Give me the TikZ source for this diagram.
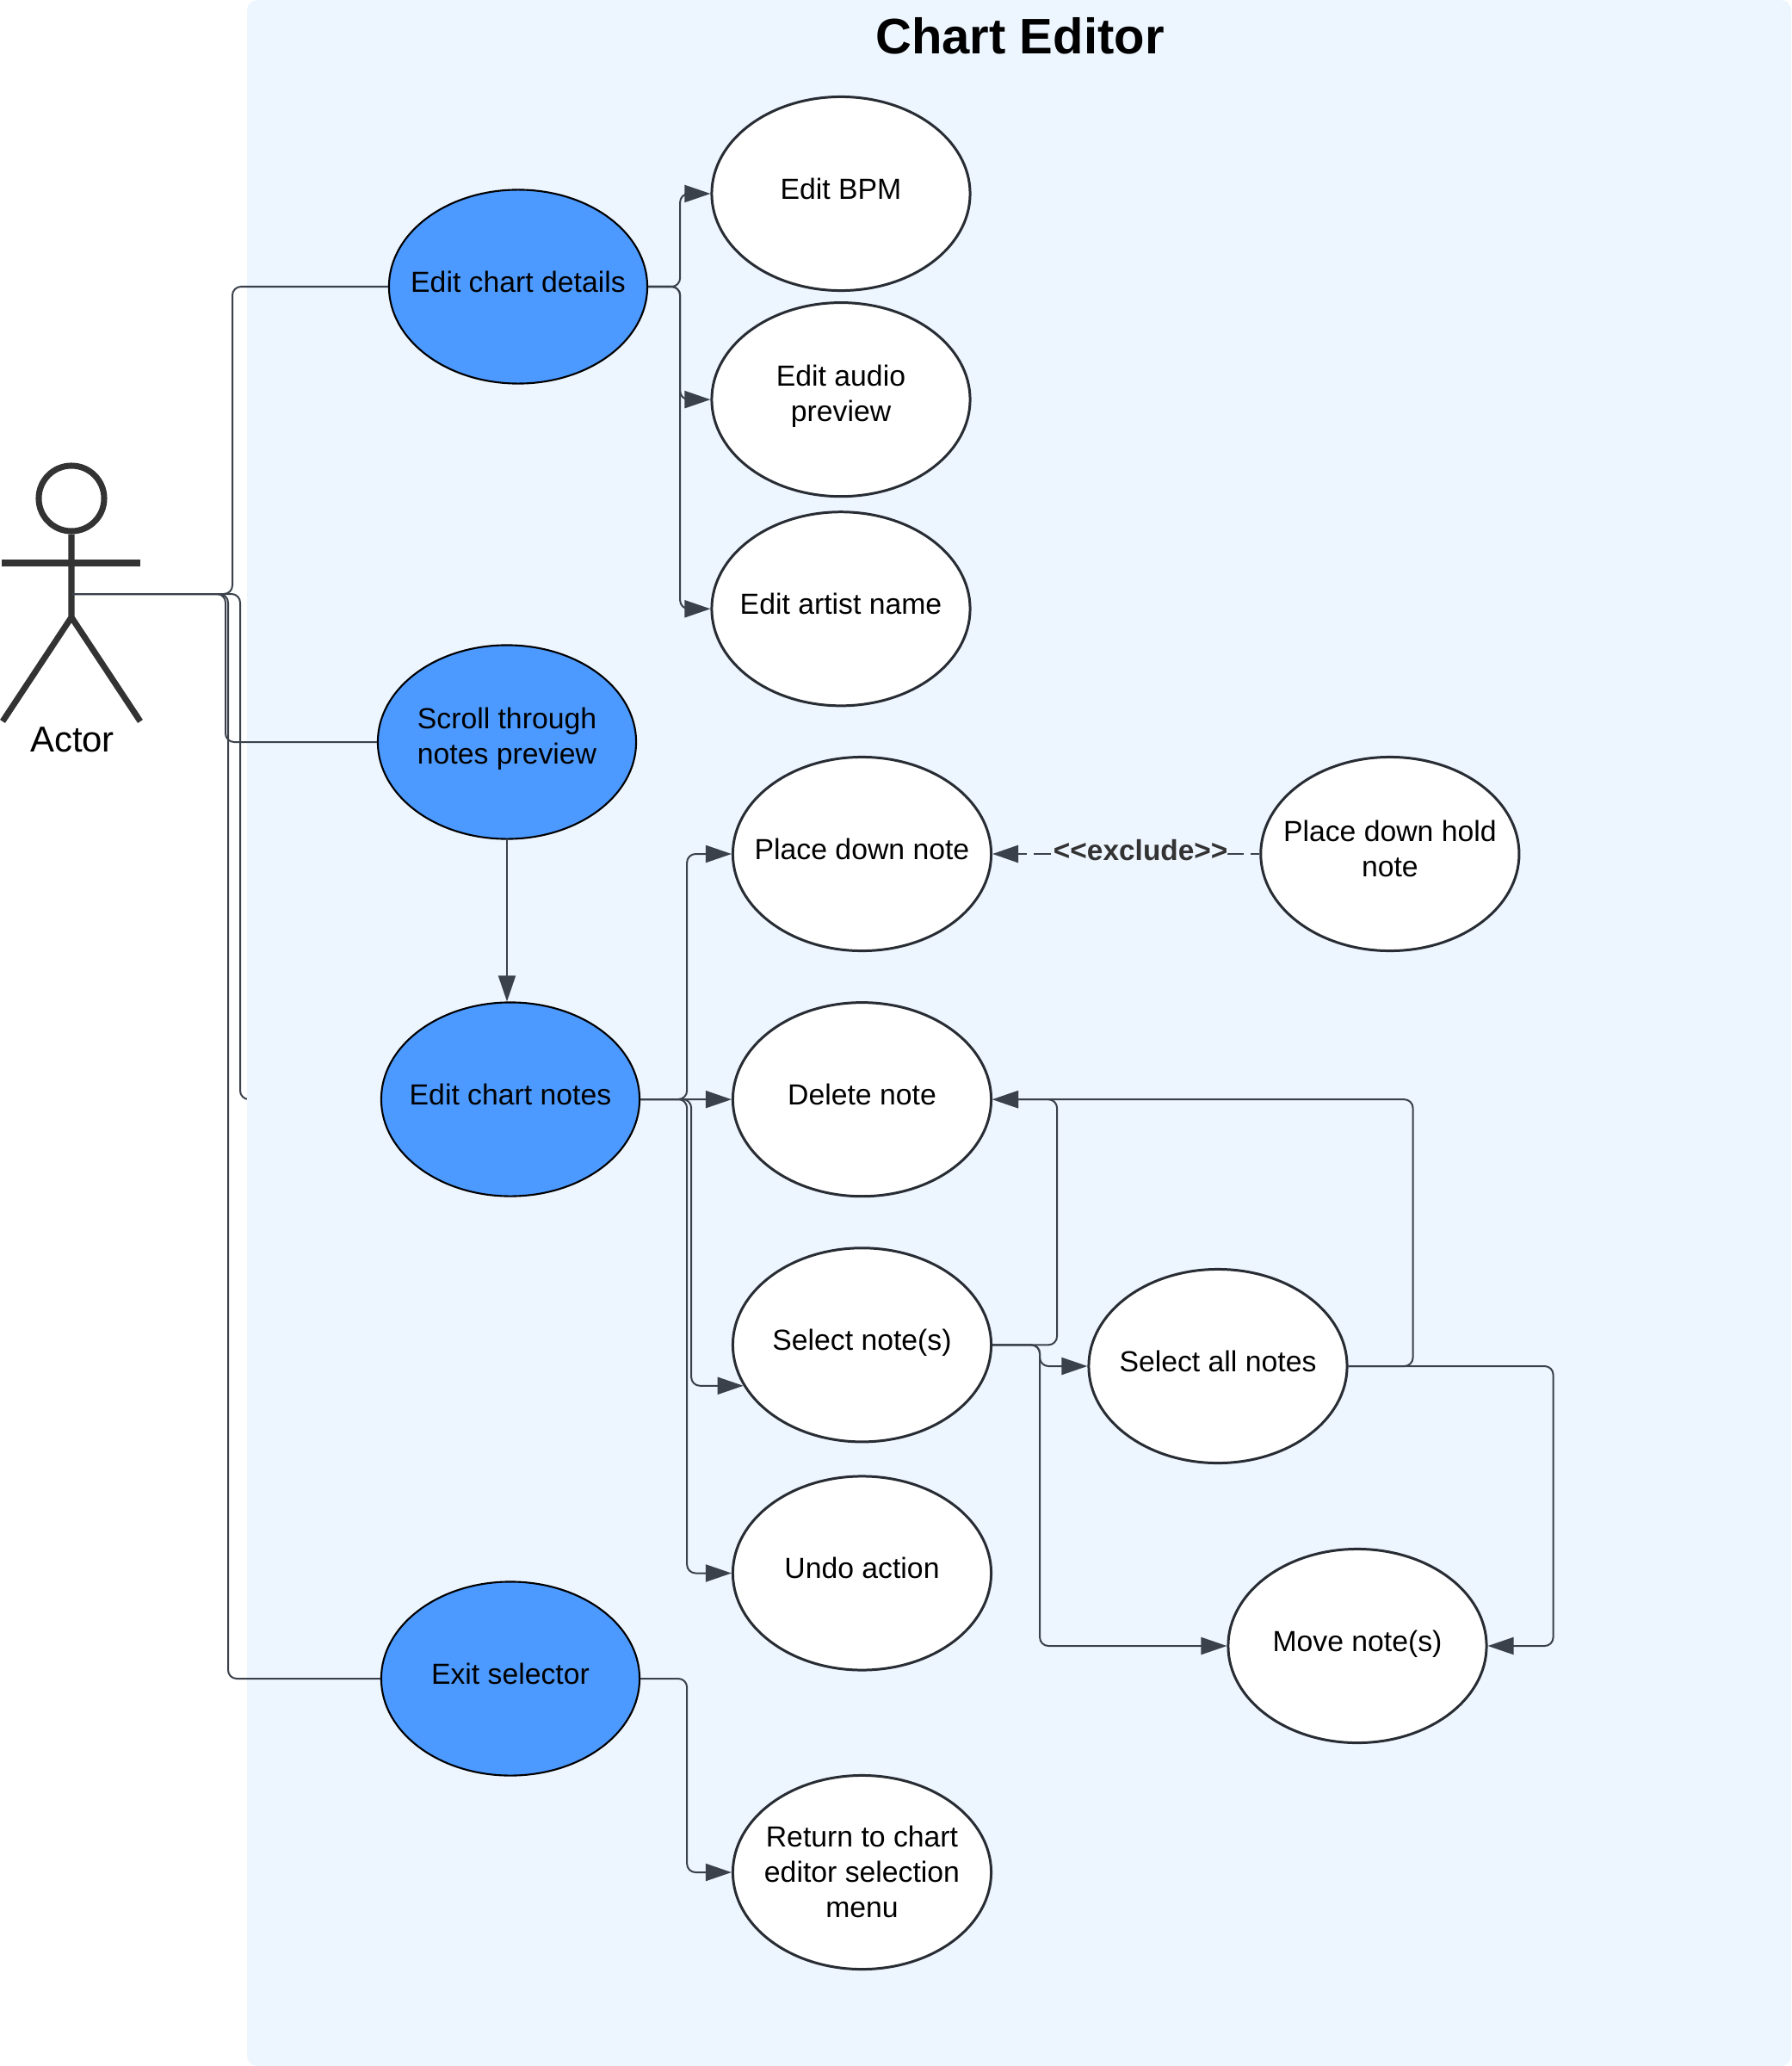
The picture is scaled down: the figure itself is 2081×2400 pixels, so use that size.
\documentclass[tikz,border=0pt]{standalone}
\usepackage{fontspec}
\usepackage{tikz}
\usetikzlibrary{arrows.meta, backgrounds, calc, positioning, shapes.geometric}
\setmainfont{Liberation Sans}
\definecolor{panelblue}{HTML}{EDF5FF}
\definecolor{caseblue}{HTML}{4C9AFF}
\definecolor{linegray}{HTML}{3A414A}
\definecolor{caseline}{HTML}{282C33}
\definecolor{figgray}{HTML}{333333}
\newcommand{\casetext}[2][-2pt]{\makebox[0pt]{\raisebox{#1}[0pt][0pt]{\begin{tabular}{@{}c@{}}#2\end{tabular}}}}
\pgfdeclarelayer{behind}
\pgfsetlayers{behind,background,main}

\begin{document}
\begin{tikzpicture}
        [x=0.01cm, y=-0.01cm,
         casesty/.style={ellipse,
                         inner sep=0pt,
                         minimum width=3cm,
                         minimum height=2.25cm,
                         line width=0.85pt,
                         draw=caseline,
                         fill=white,
                         font=\fontsize{9.6}{11.6}\selectfont},
         mainsty/.style={casesty,
                         line width=0.6pt,
                         draw=black,
                         fill=caseblue},
         figsty/.style={line width=2pt, draw=figgray},
         connsty/.style={line width=0.57pt, draw=linegray, rounded corners=0.1cm},
         post/.style={connsty, -{Triangle[length=3mm, width=2mm]}}]

        \useasboundingbox (0, 0) rectangle (2081, 2400);

        % the main use cases
        \node[mainsty] (details) at (602, 333) {\casetext{Edit chart details}};
        \node[mainsty] (scroll) at (589, 862) {\casetext[-1.6pt]{Scroll through\\notes preview}};
        \node[mainsty] (notes) at (593, 1277) {\casetext{Edit chart notes}};
        \node[mainsty] (exit) at (593, 1950) {\casetext{Exit selector}};

        % details
        \node[casesty] (bpm) at (977, 225) {\casetext{Edit BPM}};
        \node[casesty] (audio) at (bpm.center) [yshift=-2.39cm] {\casetext[-1.6pt]{Edit audio\\preview}};
        \node[casesty] (artist) at (bpm.center) [yshift=-4.82cm] {\casetext{Edit artist name}};

        % notes
        \node[casesty] (place) at (1001.5, 992) {\casetext{Place down note}};
        \node[casesty] (hold) at (place.center) [xshift=6.13cm] {\casetext[-1.8pt]{Place down hold\\note}};
        \node[casesty] (delete) at (place.center) [yshift=-2.85cm] {\casetext{Delete note}};
        \node[casesty] (select) at (delete.center) [yshift=-2.85cm] {\casetext{Select note(s)}};
        \node[casesty] (undo) at (select.center) [yshift=-2.65cm] {\casetext{Undo action}};
        \node[casesty] (all) at (1415, 1587) {\casetext{Select all notes}};
        \node[casesty] (move) at (1577, 1912) {\casetext{Move note(s)}};
        \node[casesty] (return) at (1001.5, 2175) {\casetext[-3.4pt]{Return to chart\\editor selection\\menu}};

        \node[font=\fontsize{16.5}{19}\selectfont\bfseries] (title) at (1185, 42) {Chart Editor};

        % actor
        \node[circle, figsty, inner sep=0pt, minimum size=0.76cm] (head) at (83, 579) {};
        \coordinate (hip) at (83, 717);
        \coordinate (actor) at (83, 690);
        \draw[figsty] (head.south) -- (hip) -- (3, 838);
        \draw[figsty] (hip) -- (163, 838);
        \draw[figsty] (2, 654) -- (163, 654);
        \node[font=\fontsize{11.9}{14}\selectfont] (actor name) at (84, 859) {Actor};

        \begin{scope}[on background layer]
                \fill[panelblue, rounded corners=0.12cm] (287, 0) rectangle (2081, 2400);
        \end{scope}

        % this one runs under the panel
        \begin{pgfonlayer}{behind}
                \draw[connsty] (actor) -| (279, 1277) -- (notes.west);
        \end{pgfonlayer}

        \draw[connsty] (actor) -| (270, 333) -- (details.west);
        \draw[connsty] (actor) -| (262, 862) -- (scroll.west);
        \draw[connsty] (actor) -| (265, 1950) -- (exit.west);

        \draw[post] (details.east) -- ++(37, 0) |- (bpm.west);
        \draw[post] (details.east) -- ++(37, 0) |- (audio.west);
        \draw[post] (details.east) -- ++(37, 0) |- (artist.west);

        \draw[post] (scroll.south) -- (scroll.south |- notes.north);

        \draw[post] (notes.east) -- ++(54, 0) |- (place.west);
        \draw[post] (notes.east) -- (delete.west);
        \draw[post] (notes.east) -- ++(59, 0) |- (select.199);
        \draw[post] (notes.east) -- ++(54, 0) |- (undo.west);

        \draw[post] (exit.east) -- ++(54, 0) |- (return.west);

        \draw[post] (select.east) -- ++(75, 0) |- (delete.east);
        \draw[post] (select.east) -- ++(55, 0) |- (all.west);
        \draw[post] (select.east) -- ++(55, 0) |- (move.west);
        \draw[post] (all.east) -- ++(75, 0) |- (delete.east);
        \draw[post] (all.east) -- ++(238, 0) |- (move.east);

        \draw[post, line width=0.8pt, dash pattern=on 0.2cm off 0.08cm, dash phase=0.1cm] (hold.west) -- (place.east)
                node[midway, yshift=0.04cm, xshift=0.17cm, fill=panelblue, inner sep=0pt,
                     text=figgray, font=\fontsize{9.5}{11}\selectfont\bfseries] (exclude) {<{}<exclude>{}>};
\end{tikzpicture}
\end{document}
